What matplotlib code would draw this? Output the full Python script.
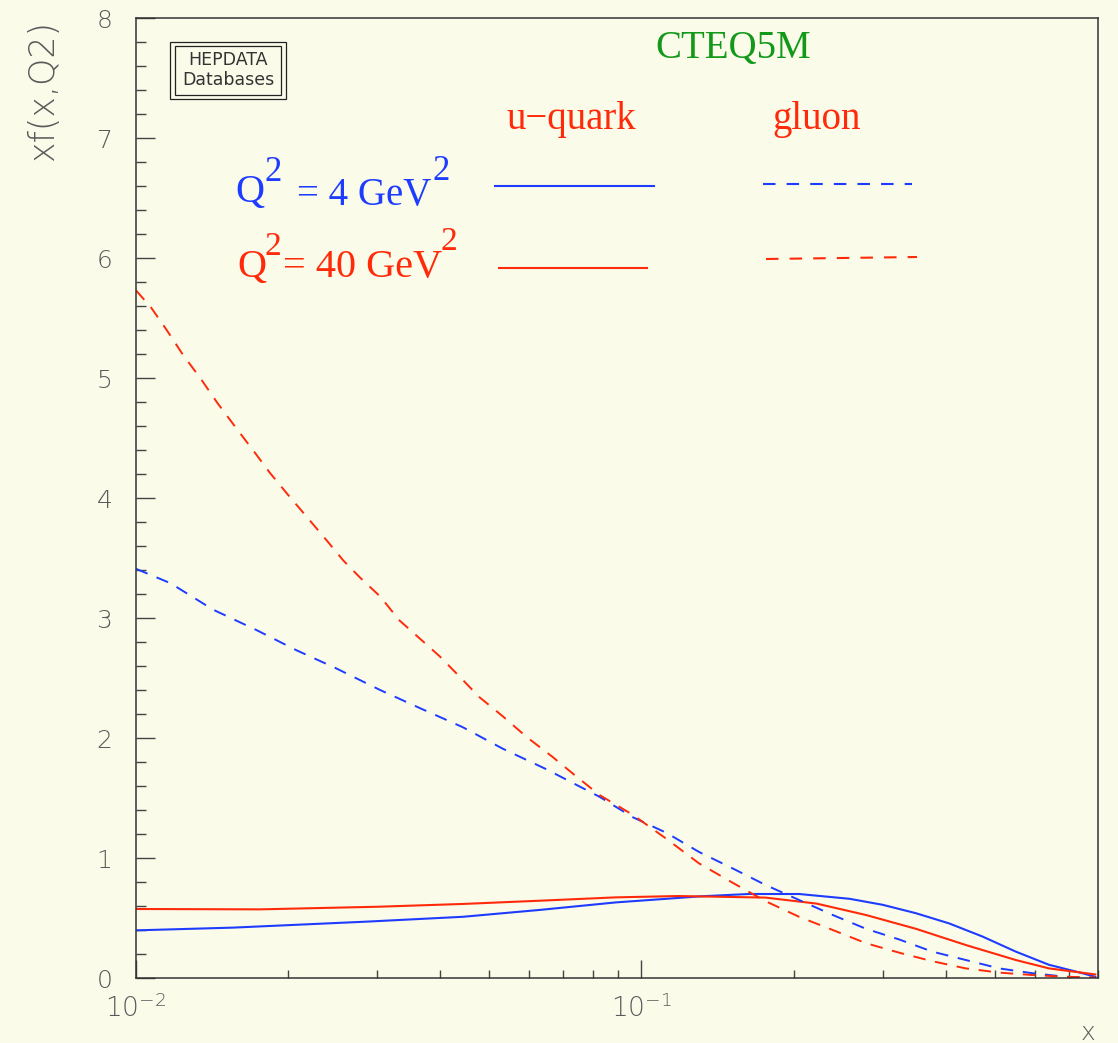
import matplotlib
matplotlib.use("Agg")
import matplotlib.pyplot as plt
from matplotlib.lines import Line2D
from matplotlib.patches import Rectangle
from matplotlib.ticker import FixedLocator, NullFormatter, LogLocator

# CTEQ5M, xf(x,Q2)
x_uq4 = [0.01, 0.0156, 0.0287, 0.0443, 0.0628, 0.089, 0.112, 0.130, 0.163, 0.205,
         0.258, 0.300, 0.349, 0.406, 0.473, 0.55, 0.64, 0.745, 0.79]
uq4 = [0.397, 0.42, 0.47, 0.51, 0.567, 0.63, 0.66, 0.68, 0.70, 0.70,
       0.66, 0.61, 0.54, 0.455, 0.345, 0.22, 0.11, 0.04, 0.01]

x_uq40 = [0.01, 0.0176, 0.0302, 0.0443, 0.0628, 0.089, 0.118, 0.130, 0.176, 0.222,
          0.278, 0.349, 0.438, 0.55, 0.64, 0.757, 0.79]
uq40 = [0.575, 0.572, 0.594, 0.617, 0.644, 0.672, 0.683, 0.68, 0.67, 0.62,
        0.525, 0.41, 0.275, 0.15, 0.08, 0.04, 0.03]

x_gl4 = [0.01, 0.0117, 0.0142, 0.0173, 0.0208, 0.0249, 0.0304, 0.0364, 0.0443, 0.0532,
         0.0648, 0.0826, 0.0961, 0.112, 0.130, 0.152, 0.176, 0.205, 0.239, 0.278,
         0.324, 0.376, 0.438, 0.51, 0.593, 0.691, 0.79]
gl4 = [3.41, 3.29, 3.07, 2.90, 2.73, 2.58, 2.40, 2.25, 2.09, 1.91,
       1.74, 1.51, 1.34, 1.21, 1.05, 0.91, 0.775, 0.65, 0.525, 0.41,
       0.32, 0.22, 0.15, 0.08, 0.04, 0.01, 0.0]

x_gl40 = [0.01, 0.0107, 0.0115, 0.0124, 0.0134, 0.0145, 0.0158, 0.0171, 0.0184, 0.020,
          0.0218, 0.0238, 0.0257, 0.0277, 0.0304, 0.0332, 0.0364, 0.0399, 0.0437, 0.0478,
          0.0532, 0.0592, 0.0668, 0.0743, 0.0826, 0.0961, 0.112, 0.130, 0.152, 0.176,
          0.205, 0.239, 0.278, 0.324, 0.376, 0.438, 0.51, 0.593, 0.691, 0.79]
gl40 = [5.73, 5.59, 5.40, 5.19, 5.00, 4.79, 4.58, 4.39, 4.21, 4.025,
        3.84, 3.65, 3.48, 3.34, 3.18, 2.98, 2.83, 2.68, 2.51, 2.34,
        2.18, 2.01, 1.84, 1.68, 1.525, 1.36, 1.16, 0.955, 0.79, 0.64,
        0.51, 0.40, 0.29, 0.21, 0.14, 0.08, 0.045, 0.025, 0.01, 0.005]

W, H = 1118, 1043
BG = "#fbfbea"
BLUE = "#1e3cff"
RED = "#ff2a0a"
GREEN = "#12991a"
GRIS = "#5a5a5a"

plt.rcParams["lines.scale_dashes"] = False
plt.rcParams["mathtext.default"] = "regular"

fig = plt.figure(figsize=(W / 100, H / 100), dpi=100, facecolor=BG)
ax = fig.add_axes([136 / W, 1 - 978 / H, (1098 - 136) / W, (978 - 18) / H])
ax.set_facecolor(BG)

dash = (0, (9, 7))
ax.plot(x_uq4, uq4, color=BLUE, lw=1.5)
ax.plot(x_uq40, uq40, color=RED, lw=1.5)
ax.plot(x_gl4, gl4, color=BLUE, lw=1.4, linestyle=dash)
ax.plot(x_gl40, gl40, color=RED, lw=1.4, linestyle=dash)

ax.set_xscale("log")
ax.set_xlim(0.01, 0.8)
ax.set_ylim(0, 8)
ax.yaxis.set_major_locator(FixedLocator(range(0, 9)))
ax.yaxis.set_minor_locator(FixedLocator([i * 0.2 for i in range(41)]))
ax.xaxis.set_major_locator(LogLocator(base=10))
ax.xaxis.set_minor_locator(LogLocator(base=10, subs=range(2, 10)))
ax.xaxis.set_minor_formatter(NullFormatter())

for s in ax.spines.values():
    s.set_linewidth(1.1)
    s.set_color("#333333")
ax.tick_params(which="both", direction="in", top=False, right=False, color="#444444")
ax.tick_params(axis="y", which="major", length=13.5, width=1, pad=17, labelsize=18, labelcolor=GRIS)
ax.tick_params(axis="y", which="minor", length=7, width=1)
ax.tick_params(axis="x", which="major", length=13, width=1, pad=11, labelsize=19, labelcolor=GRIS)
ax.tick_params(axis="x", which="minor", length=6, width=1)
for lab in ax.get_xticklabels() + ax.get_yticklabels():
    lab.set_fontweight("light")

# etiquetas de ejes
fig.text(43 / W, 1 - 20 / H, "xf(x,Q2)", rotation=90, ha="center", va="top", fontsize=25,
         color=GRIS, fontweight="light")
fig.text(1088 / W, 1 - 1021 / H, "x", ha="center", va="top", fontsize=18, color=GRIS, fontweight="light")

# caja HEPDATA
fig.patches.append(Rectangle((170 / W, 1 - 99 / H), 116 / W, 57 / H, transform=fig.transFigure,
                             fill=False, lw=0.9, edgecolor="#222222"))
fig.patches.append(Rectangle((175 / W, 1 - 95 / H), 106 / W, 49 / H, transform=fig.transFigure,
                             fill=False, lw=0.9, edgecolor="#222222"))
fig.text(228 / W, 1 - 60 / H, "HEPDATA", ha="center", va="center", fontsize=12.5, color="#333333")
fig.text(228 / W, 1 - 80 / H, "Databases", ha="center", va="center", fontsize=12.5, color="#333333")

serif = "Liberation Serif"
def txt(x, y, s, size, color):
    fig.text(x / W, 1 - y / H, s, ha="left", va="baseline", fontsize=size, color=color, family=serif)

fig.text(733 / W, 1 - 48 / H, "CTEQ5M", ha="center", va="center", fontsize=28, color=GREEN, family=serif)
fig.text(571 / W, 1 - 120 / H, "u\u2212quark", ha="center", va="center", fontsize=28, color=RED, family=serif)
fig.text(817 / W, 1 - 120 / H, "gluon", ha="center", va="center", fontsize=28, color=RED, family=serif)

txt(235, 202, "Q", 29, BLUE)
txt(264, 181, "2", 25, BLUE)
txt(297, 205, "= 4 GeV", 28, BLUE)
txt(432, 180, "2", 25, BLUE)

txt(237, 277, "Q", 29, RED)
txt(265, 255, "2", 24, RED)
txt(283, 277, "= 40 GeV", 29, RED)
txt(440, 250, "2", 24, RED)

# muestras de la leyenda
def muestra(x0, x1, y0, y1, color, ls):
    fig.add_artist(Line2D([x0 / W, x1 / W], [1 - y0 / H, 1 - y1 / H], transform=fig.transFigure,
                          color=color, lw=1.5, linestyle=ls))

muestra(495, 654, 186, 186, BLUE, "-")
muestra(763, 912, 184, 184, BLUE, (0, (9, 8)))
muestra(499, 647, 268, 268, RED, "-")
muestra(766, 917, 259, 257, RED, (0, (9, 8)))

fig.savefig("out.png", dpi=100, facecolor=BG)
